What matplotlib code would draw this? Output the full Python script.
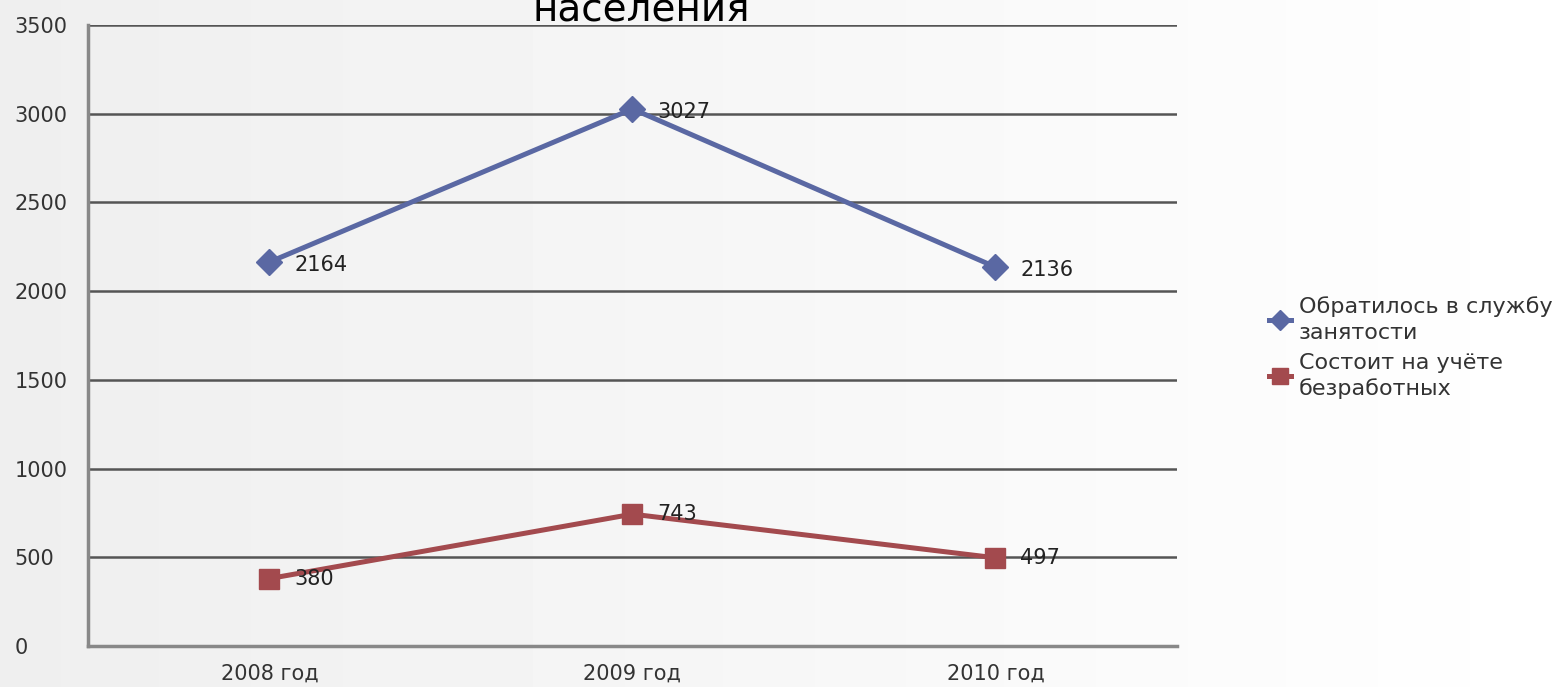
import numpy as np
import matplotlib.pyplot as plt

plt.rcParams['font.family'] = ['DejaVu Sans']

years = ["2008 год", "2009 год", "2010 год"]
applied = [2164, 3027, 2136]
registered = [380, 743, 497]
series_names = ["Обратилось в службу\nзанятости", "Состоит на учёте\nбезработных"]

fig = plt.figure(figsize=(15.68, 6.87), dpi=100)

# light grey-to-white background
bg = fig.add_axes([0, 0, 1, 1], zorder=-10)
grad = np.linspace(0.935, 1.0, 256).reshape(1, -1)
bg.imshow(grad, aspect="auto", cmap="gray", vmin=0, vmax=1, extent=[0, 1, 0, 1])
bg.axis("off")

ax = fig.add_axes([0.0561, 0.0597, 0.6945, 0.9039])
ax.patch.set_alpha(0)
x = np.arange(len(years))

ax.plot(x, applied, color="#5a68a3", lw=3.6, marker="D", ms=13,
        label=series_names[0], zorder=3)
ax.plot(x, registered, color="#a34a4e", lw=3.6, marker="s", ms=15,
        label=series_names[1], zorder=3)

for xi, v in zip(x, applied):
    ax.annotate(str(v), (xi, v), xytext=(18, -2), textcoords="offset points",
                ha="left", va="center", fontsize=15, color="#222222")
for xi, v in zip(x, registered):
    ax.annotate(str(v), (xi, v), xytext=(18, 0), textcoords="offset points",
                ha="left", va="center", fontsize=15, color="#222222")

ax.set_xlim(-0.5, 2.5)
ax.set_ylim(0, 3500)
ax.set_yticks(range(0, 3501, 500))
ax.set_xticks(x)
ax.set_xticklabels(years)
ax.tick_params(axis="both", length=0, labelsize=15, colors="#333333")
ax.tick_params(axis="y", pad=53)
ax.tick_params(axis="x", pad=13)
for lab in ax.get_yticklabels():
    lab.set_horizontalalignment("left")
ax.grid(axis="y", color="#555555", lw=1.8)
ax.set_axisbelow(True)
for s in ["top", "right"]:
    ax.spines[s].set_visible(False)
ax.spines["left"].set_color("#888888")
ax.spines["left"].set_linewidth(2.5)
ax.spines["bottom"].set_color("#888888")
ax.spines["bottom"].set_linewidth(2.5)

leg = ax.legend(loc="center left", bbox_to_anchor=(1.066, 0.48), frameon=False,
                fontsize=16, handlelength=1.0, handletextpad=0.35,
                labelspacing=0.45, labelcolor="#333333", markerscale=0.75)
for t in leg.get_texts():
    t.set_linespacing(1.35)

fig.text(0.409, 1 - 21 / 687, "населения", ha="center", va="baseline",
         fontsize=28, color="black")

fig.savefig("out.png", dpi=100)
